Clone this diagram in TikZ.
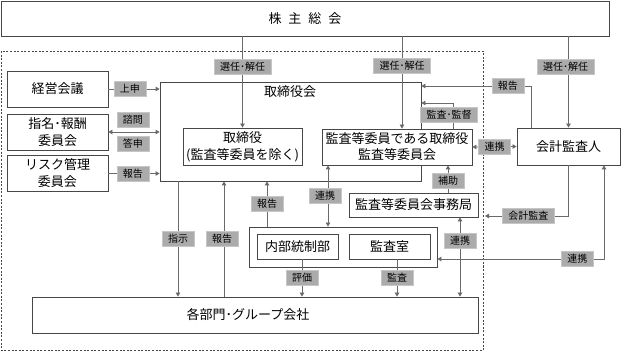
\documentclass[tikz,border=0pt]{standalone}
\usepackage{fontspec}
\setmainfont{Noto Sans CJK JP}
\usetikzlibrary{arrows.meta,positioning,calc}
\definecolor{boxline}{HTML}{474747}
\definecolor{linegray}{HTML}{6A6A6A}
\definecolor{tagfill}{HTML}{ABABAB}
\definecolor{tagline}{HTML}{C6C6C6}

\begin{document}
\begin{tikzpicture}[x=1pt, y=-1pt,
    unit/.style={draw=boxline, line width=0.8pt, fill=white, align=center, inner sep=0pt,
                 font=\fontsize{13}{17}\selectfont},
    tag/.style={fill=tagfill, draw=tagline, line width=0.6pt, inner xsep=6pt, inner ysep=0pt,
                minimum height=15pt, font=\fontsize{10}{10}\selectfont},
    wire/.style={draw=linegray, line width=0.8pt},
    arr/.style={-{Triangle[length=4pt,width=4.5pt]}},
    darr/.style={{Triangle[length=4pt,width=4.5pt]}-{Triangle[length=4pt,width=4.5pt]}}]

    \useasboundingbox (0,0) rectangle (621,352);

    % Company boundary (dashed)
    \draw[draw=boxline, line width=0.7pt, dash pattern=on 2pt off 1.6pt] (1.5,51) rectangle (483,350.5);

    % Boxes
    \node[unit, minimum width=608pt, minimum height=35pt] (gm) at (305,18.5)
        {株\hspace{7pt}主\hspace{7pt}総\hspace{7pt}会};
    \node[unit, minimum width=261pt, minimum height=99pt] (board) at (290.5,131.5) {};
    \node[font=\fontsize{13}{13}\selectfont, inner sep=0pt] (board-title) at (290,92) {取締役会};

    \node[unit, minimum width=101pt, minimum height=36pt] (keiei) at (57.5,89) {経営会議};
    \node[unit, minimum width=101pt, minimum height=36pt] (shimei) at (57.5,132) {指名･報酬\\委員会};
    \node[unit, minimum width=101pt, minimum height=36pt] (risk) at (57.5,173.5) {リスク管理\\委員会};

    \node[unit, minimum width=119pt, minimum height=37pt] (dir) at (242.5,146.5)
        {取締役\\(監査等委員を除く)};
    \node[unit, minimum width=150pt, minimum height=36pt, font=\fontsize{13}{16}\selectfont] (acm) at (397,147)
        {監査等委員である取締役\\監査等委員会};
    \node[unit, minimum width=103pt, minimum height=37pt] (auditor) at (568.5,146.5) {会計監査人};
    \node[unit, minimum width=129pt, minimum height=24pt] (office) at (413.5,205) {監査等委員会事務局};

    \node[unit, minimum width=188pt, minimum height=40pt] (inner) at (343,247) {};
    \node[unit, minimum width=81pt, minimum height=25pt] (icd) at (297.5,246.5) {内部統制部};
    \node[unit, minimum width=81pt, minimum height=25pt] (room) at (389.5,246.5) {監査室};

    \node[unit, minimum width=446pt, minimum height=36pt] (dept) at (255,315) {};
    \node[font=\fontsize{13}{13}\selectfont, inner sep=0pt] (dept-title) at (248,315) {各部門･グループ会社};

    % Elbow points
    \coordinate (hokoku) at (531,86);
    \coordinate (kansa) at (453,103);
    \coordinate (kaikei) at (485,216);
    \coordinate (renkei) at (604,259);
    \coordinate (shiji) at (178,240);
    \coordinate (houkoku-dept) at (224,240);
    \coordinate (houkoku-inner) at (267,204);
    \coordinate (renkei-acm) at (328,196);
    \coordinate (hyoka) at (302,279);
    \coordinate (kansa-room) at (397,279);
    \coordinate (renkei-office) at (460,240);
    \coordinate (hojo) at (448,181);

    % Shareholders: appoint / dismiss
    \draw[wire, arr] (dir.north |- gm.south) -- node[tag, pos=0.33] (t-sen1) {選任･解任} (dir.north);
    \draw[wire, arr] ([xshift=5pt]acm.north |- gm.south) -- node[tag, pos=0.32] (t-sen2) {選任･解任} ([xshift=5pt]acm.north);
    \draw[wire, arr] (auditor.north |- gm.south) -- node[tag, pos=0.33, xshift=-3pt] (t-sen3) {選任･解任} (auditor.north);

    % Left committees
    \draw[wire, arr] (keiei.east) -- node[tag, pos=0.42] (t-joshin) {上申} (board.west |- keiei.east);
    \draw[wire, darr] (shimei.east) -- node[tag, pos=0.48, yshift=12pt] (t-shimon) {諮問}
        node[tag, pos=0.48, yshift=-12pt] (t-toshin) {答申} (board.west |- shimei.east);
    \draw[wire, arr] (risk.east) -- node[tag, pos=0.48] (t-risk) {報告} (board.west |- risk.east);

    % Audit & Supervisory Committee / accounting auditor
    \draw[wire, arr] (auditor.north -| hokoku) |- node[tag, pos=0.605] (t-hokoku) {報告} (board.east |- hokoku);
    \draw[wire, arr] (acm.north -| kansa) |- node[tag, pos=0.27, xshift=-4pt] (t-kansa) {監査･監督} (board.east |- kansa);
    \draw[wire, darr] (acm.east) -- node[tag] (t-renkei1) {連携} (auditor.west);
    \draw[wire, arr] (auditor.south) |- node[tag, pos=0.74] (t-kaikei) {会計監査} (kaikei);
    \draw[wire, darr] (auditor.south -| renkei) |- node[tag, pos=0.58] (t-renkei2) {連携} (inner.east |- renkei);
    \draw[wire, arr] (office.north -| hojo) -- node[tag, pos=0.45] (t-hojo) {補助} (acm.south -| hojo);
    \draw[wire, darr] (acm.south -| renkei-acm) -- node[tag, xshift=-3pt] (t-renkei3) {連携} (inner.north -| renkei-acm);

    % Board and departments
    \draw[wire, arr] (board.south -| shiji) -- node[tag] (t-shiji) {指示} (dept.north -| shiji);
    \draw[wire, arr] (dept.north -| houkoku-dept) -- node[tag, xshift=-2pt] (t-houkoku2) {報告} (board.south -| houkoku-dept);
    \draw[wire, arr] (inner.north -| houkoku-inner) -- node[tag] (t-houkoku3) {報告} (board.south -| houkoku-inner);
    \draw[wire, arr] (icd.south -| hyoka) -- node[tag] (t-hyoka) {評価} (dept.north -| hyoka);
    \draw[wire, arr] (room.south -| kansa-room) -- node[tag] (t-kansa2) {監査} (dept.north -| kansa-room);
    \draw[wire, darr] (office.south -| renkei-office) -- node[tag, pos=0.29] (t-renkei4) {連携} (dept.north -| renkei-office);

\end{tikzpicture}
\end{document}
